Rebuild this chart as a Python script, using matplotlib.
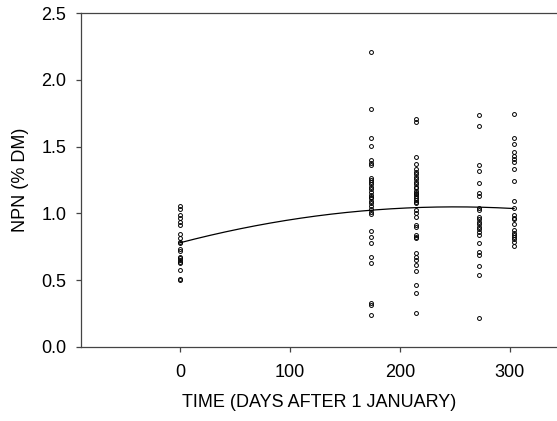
import matplotlib.pyplot as plt
import numpy as np

plt.rcParams['font.family'] = ['Liberation Sans', 'DejaVu Sans']

# sampling days and NPN values
day_0 = [1.058, 1.033, 0.988, 0.963, 0.938, 0.913, 0.843, 0.818, 0.788, 0.776,
         0.731, 0.718, 0.676, 0.663, 0.651, 0.638, 0.626, 0.576, 0.501, 0.51]
day_174 = [2.210, 1.781, 1.562, 1.507, 1.400, 1.380, 1.360, 1.263, 1.250, 1.237,
           1.220, 1.200, 1.180, 1.160, 1.138, 1.125, 1.113, 1.093, 1.076, 1.055,
           1.033, 1.013, 0.996, 0.871, 0.826, 0.781, 0.676, 0.626, 0.327, 0.314,
           0.240]
day_215 = [1.710, 1.686, 1.420, 1.367, 1.330, 1.312, 1.295, 1.275, 1.255, 1.237,
           1.220, 1.200, 1.188, 1.168, 1.155, 1.145, 1.130, 1.113, 1.100, 1.088,
           1.076, 1.025, 1.000, 0.975, 0.913, 0.901, 0.838, 0.826, 0.813, 0.701,
           0.676, 0.651, 0.614, 0.571, 0.464, 0.402, 0.257]
day_272 = [1.735, 1.655, 1.362, 1.320, 1.225, 1.150, 1.133, 1.038, 1.025, 0.971,
           0.956, 0.938, 0.921, 0.901, 0.881, 0.863, 0.838, 0.776, 0.713, 0.689,
           0.606, 0.537, 0.219]
day_304 = [1.745, 1.562, 1.519, 1.462, 1.432, 1.407, 1.382, 1.332, 1.245, 1.095,
           1.038, 0.988, 0.968, 0.956, 0.921, 0.876, 0.856, 0.838, 0.826, 0.806,
           0.784, 0.758]
days = [0, 174, 215, 272, 304]
groups = [day_0, day_174, day_215, day_272, day_304]

# quadratic fit coefficients (c0, c1, c2)
fit_coef = [0.78, 2.15e-3, -4.3e-6]
fit_range = [0, 304]

fig = plt.figure(figsize=(5.57, 4.21), dpi=100)
ax = fig.add_axes([0.1454, 0.1758, 0.8546, 0.7933])

for d, vals in zip(days, groups):
    ax.plot([d]*len(vals), vals, 'o', mfc='none', mec='black', ms=2.8, mew=0.7,
            linestyle='none')

xf = np.linspace(fit_range[0], fit_range[1], 200)
yf = fit_coef[0] + fit_coef[1]*xf + fit_coef[2]*xf**2
ax.plot(xf, yf, color='black', lw=0.9)

ax.set_xlim(-90, 343)
ax.set_ylim(0, 2.5)
ax.set_xticks([0, 100, 200, 300])
ax.set_yticks([0, 0.5, 1.0, 1.5, 2.0, 2.5])
ax.set_yticklabels(['0.0', '0.5', '1.0', '1.5', '2.0', '2.5'])
ax.spines['right'].set_visible(False)
for s in ['left', 'top', 'bottom']:
    ax.spines[s].set_color('#444444')
    ax.spines[s].set_linewidth(0.9)
ax.tick_params(direction='out', length=3.5, width=0.9, color='#444444',
               labelsize=13)
ax.tick_params(axis='y', pad=7)
ax.tick_params(axis='x', pad=9)
ax.set_xlabel('TIME (DAYS AFTER 1 JANUARY)', fontsize=13, labelpad=9)
ax.set_ylabel('NPN (% DM)', fontsize=13, labelpad=9)

fig.savefig('out.png', dpi=100)
